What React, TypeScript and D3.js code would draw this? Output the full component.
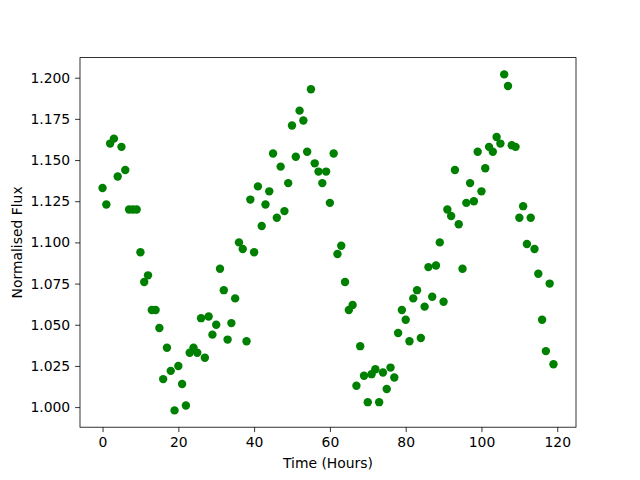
import * as d3 from 'd3';
import { type FC, useEffect, useRef } from 'react';

// Hourly samples, 0..119
const hours: number[] = Array.from({ length: 120 }, (_, i) => i);

const flux: number[] = [
  1.133, 1.123, 1.160, 1.163, 1.140, 1.158, 1.144, 1.120, 1.120, 1.120,
  1.094, 1.076, 1.080, 1.059, 1.059, 1.048, 1.017, 1.036, 1.022, 0.998,
  1.025, 1.014, 1.001, 1.033, 1.036, 1.033, 1.054, 1.030, 1.055, 1.044,
  1.050, 1.084, 1.071, 1.041, 1.051, 1.066, 1.100, 1.096, 1.040, 1.126,
  1.094, 1.134, 1.110, 1.123, 1.131, 1.154, 1.115, 1.146, 1.119, 1.136,
  1.171, 1.152, 1.180, 1.174, 1.155, 1.193, 1.148, 1.143, 1.136, 1.143,
  1.124, 1.154, 1.093, 1.098, 1.076, 1.059, 1.062, 1.013, 1.037, 1.019,
  1.003, 1.020, 1.023, 1.003, 1.021, 1.011, 1.024, 1.018, 1.045, 1.059,
  1.053, 1.040, 1.066, 1.071, 1.042, 1.061, 1.085, 1.067, 1.086, 1.100,
  1.064, 1.120, 1.116, 1.144, 1.111, 1.084, 1.124, 1.136, 1.125, 1.155,
  1.131, 1.145, 1.158, 1.155, 1.164, 1.160, 1.202, 1.195, 1.159, 1.158,
  1.115, 1.122, 1.099, 1.115, 1.096, 1.081, 1.053, 1.034, 1.075, 1.026,
];

const xTicks = [0, 20, 40, 60, 80, 100, 120];
const yTicks = [1.0, 1.025, 1.05, 1.075, 1.1, 1.125, 1.15, 1.175, 1.2];

const FluxScatter: FC = () => {
  const svgRef = useRef<SVGSVGElement>(null);

  useEffect(() => {
    if (!svgRef.current) {
      return;
    }
    const svg = d3.select(svgRef.current);
    svg.selectAll('*').remove();

    const W = 640;
    const H = 480;
    const margin = { top: 57.6, right: 64, bottom: 52.8, left: 80 };
    const width = W - margin.left - margin.right;
    const height = H - margin.top - margin.bottom;
    const font = 'DejaVu Sans, sans-serif';

    // matplotlib-style 5% padding around the data
    const [x0, x1] = d3.extent(hours) as [number, number];
    const [y0, y1] = d3.extent(flux) as [number, number];
    const xPad = (x1 - x0) * 0.05;
    const yPad = (y1 - y0) * 0.05;

    const xScale = d3
      .scaleLinear()
      .domain([x0 - xPad, x1 + xPad])
      .range([0, width]);
    const yScale = d3
      .scaleLinear()
      .domain([y0 - yPad, y1 + yPad])
      .range([height, 0]);

    svg.append('rect').attr('width', W).attr('height', H).attr('fill', '#fff');

    const g = svg
      .append('g')
      .attr('transform', `translate(${margin.left},${margin.top})`);

    // Points
    g.selectAll('circle')
      .data(flux)
      .join('circle')
      .attr('cx', (_, i) => xScale(hours[i]))
      .attr('cy', (d) => yScale(d))
      .attr('r', 4.2)
      .attr('fill', '#008000');

    // X axis
    g.append('g')
      .attr('transform', `translate(0,${height})`)
      .call(
        d3
          .axisBottom(xScale)
          .tickValues(xTicks)
          .tickSize(4.9)
          .tickPadding(4.9)
          .tickFormat((d) => `${d}`),
      )
      .call((axis) => axis.select('.domain').remove())
      .call((axis) =>
        axis.selectAll('.tick line').attr('stroke', '#000').attr('stroke-width', 0.8),
      )
      .call((axis) =>
        axis
          .selectAll('.tick text')
          .attr('fill', '#000')
          .attr('font-family', font)
          .attr('font-size', '13.9px'),
      );

    // Y axis
    g.append('g')
      .call(
        d3
          .axisLeft(yScale)
          .tickValues(yTicks)
          .tickSize(4.9)
          .tickPadding(4.9)
          .tickFormat((d) => (d as number).toFixed(3)),
      )
      .call((axis) => axis.select('.domain').remove())
      .call((axis) =>
        axis.selectAll('.tick line').attr('stroke', '#000').attr('stroke-width', 0.8),
      )
      .call((axis) =>
        axis
          .selectAll('.tick text')
          .attr('fill', '#000')
          .attr('font-family', font)
          .attr('font-size', '13.9px'),
      );

    // Frame
    g.append('rect')
      .attr('width', width)
      .attr('height', height)
      .attr('fill', 'none')
      .attr('stroke', '#000')
      .attr('stroke-width', 0.8);

    // Axis labels
    g.append('text')
      .attr('x', width / 2)
      .attr('y', height + 41)
      .attr('text-anchor', 'middle')
      .attr('font-family', font)
      .attr('font-size', '13.9px')
      .text('Time (Hours)');

    g.append('text')
      .attr('transform', `translate(${-58},${height / 2}) rotate(-90)`)
      .attr('text-anchor', 'middle')
      .attr('font-family', font)
      .attr('font-size', '13.9px')
      .text('Normalised Flux');
  }, []);

  return (
    <svg
      ref={svgRef}
      width={640}
      height={480}
      style={{ position: 'absolute', left: 0, top: 0, display: 'block' }}
    />
  );
};

export default function App() {
  return <FluxScatter />;
}
